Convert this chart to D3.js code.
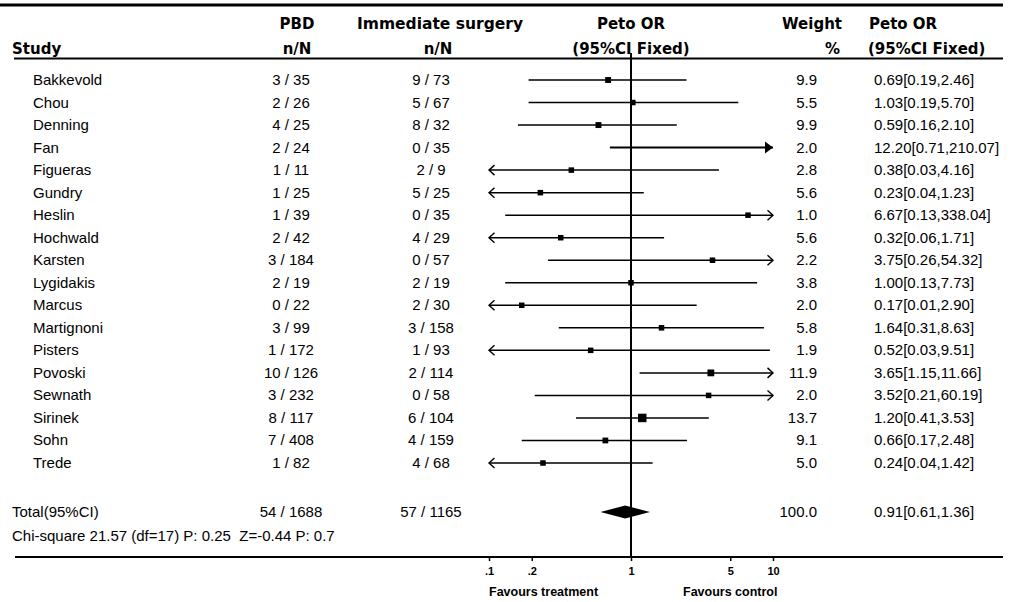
<!DOCTYPE html>
<html>
<head>
<meta charset="utf-8">
<script src="https://cdn.jsdelivr.net/npm/d3@7"></script>
<style>
body{margin:0;background:#fff;}
svg text{font-family:"Liberation Sans",Arial,sans-serif;fill:#000;white-space:pre;}
svg .head text{font-family:"DejaVu Sans",sans-serif;font-weight:bold;}
</style>
</head>
<body>
<svg id="chart" width="1013" height="602"></svg>
<script>
// studies and counts
const studies = ["Bakkevold","Chou","Denning","Fan","Figueras","Gundry","Heslin","Hochwald","Karsten",
  "Lygidakis","Marcus","Martignoni","Pisters","Povoski","Sewnath","Sirinek","Sohn","Trede"];
const pbdEvents = [3,2,4,2,1,1,1,2,3,2,0,3,1,10,3,8,7,1];
const pbdTotal  = [35,26,25,24,11,25,39,42,184,19,22,99,172,126,232,117,408,82];
const immEvents = [9,5,8,0,2,5,0,4,0,2,2,3,1,2,0,6,4,4];
const immTotal  = [73,67,32,35,9,25,35,29,57,19,30,158,93,114,58,104,159,68];
// Peto OR with 95% CI, weight %
const orValues = [0.69,1.03,0.59,12.20,0.38,0.23,6.67,0.32,3.75,1.00,0.17,1.64,0.52,3.65,3.52,1.20,0.66,0.24];
const ciLow    = [0.19,0.19,0.16,0.71,0.03,0.04,0.13,0.06,0.26,0.13,0.01,0.31,0.03,1.15,0.21,0.41,0.17,0.04];
const ciHigh   = [2.46,5.70,2.10,210.07,4.16,1.23,338.04,1.71,54.32,7.73,2.90,8.63,9.51,11.66,60.19,3.53,2.48,1.42];
const weights  = [9.9,5.5,9.9,2.0,2.8,5.6,1.0,5.6,2.2,3.8,2.0,5.8,1.9,11.9,2.0,13.7,9.1,5.0];
// pooled
const totalLabel = "Total(95%CI)";
const totalPbd = "54 / 1688";
const totalImm = "57 / 1165";
const totalOr = [0.91,0.61,1.36];
const totalWeight = 100.0;
const hetText = "Chi-square 21.57 (df=17) P: 0.25  Z=-0.44 P: 0.7";
// axis
const tickValues = [0.1,0.2,1,5,10];
const tickLabels = [".1",".2","1","5","10"];

const svg = d3.select("#chart");
const X_LEFT = 12, X_STUDY = 33, X_PBD = 291, X_IMM = 431, X_W = 817, X_CI = 874;
const FS = "15px";

const x = d3.scaleLog().domain([0.1,10]).range([489,773]);
const y = d3.scalePoint().domain(studies).range([80,463]);
const sq = d3.scalePow().exponent(6).domain([0,13.7]).range([5.5,8.5]);
const yTotal = 512, yHet = 536, yAxis = 557;

// rules
svg.append("line").attr("x1",0).attr("x2",1003).attr("y1",5).attr("y2",5)
  .attr("stroke","#000").attr("stroke-width",3);
svg.append("line").attr("x1",14).attr("x2",1003).attr("y1",58.5).attr("y2",58.5)
  .attr("stroke","#000").attr("stroke-width",2);
svg.append("line").attr("x1",15).attr("x2",1003).attr("y1",yAxis).attr("y2",yAxis)
  .attr("stroke","#000").attr("stroke-width",2);

// header
const head = svg.append("g").attr("class","head").attr("font-size","15px");
const hy1 = 29, hy2 = 54;
head.append("text").attr("x",X_LEFT).attr("y",hy2).text("Study");
head.append("text").attr("x",297).attr("y",hy1).attr("text-anchor","middle").text("PBD");
head.append("text").attr("x",297).attr("y",hy2).attr("text-anchor","middle").text("n/N");
head.append("text").attr("x",440).attr("y",hy1).attr("text-anchor","middle").attr("font-size","15.5px").text("Immediate surgery");
head.append("text").attr("x",438).attr("y",hy2).attr("text-anchor","middle").text("n/N");
head.append("text").attr("x",x(1)).attr("y",hy1).attr("text-anchor","middle").text("Peto OR");
head.append("text").attr("x",x(1)).attr("y",hy2).attr("text-anchor","middle").text("(95%CI Fixed)");
head.append("text").attr("x",842).attr("y",hy1).attr("text-anchor","end").text("Weight");
head.append("text").attr("x",840).attr("y",hy2).attr("text-anchor","end").text("%");
head.append("text").attr("x",X_CI-5).attr("y",hy1).text("Peto OR");
head.append("text").attr("x",X_CI-6).attr("y",hy2).text("(95%CI Fixed)");

// null line
svg.append("line").attr("x1",x(1)).attr("x2",x(1)).attr("y1",53).attr("y2",yAxis)
  .attr("stroke","#000").attr("stroke-width",2);

// table text
const rows = svg.append("g").attr("font-size",FS).selectAll("g").data(studies).join("g")
  .attr("transform",d=>`translate(0,${y(d)+5})`);
rows.append("text").attr("x",X_STUDY).text(d=>d);
rows.append("text").attr("x",X_PBD).attr("text-anchor","middle").text((d,i)=>`${pbdEvents[i]} / ${pbdTotal[i]}`);
rows.append("text").attr("x",X_IMM).attr("text-anchor","middle").text((d,i)=>`${immEvents[i]} / ${immTotal[i]}`);
rows.append("text").attr("x",X_W).attr("text-anchor","end").text((d,i)=>weights[i].toFixed(1));
rows.append("text").attr("x",X_CI).text((d,i)=>`${orValues[i].toFixed(2)}[${ciLow[i].toFixed(2)},${ciHigh[i].toFixed(2)}]`);

// forest marks
const [dMin,dMax] = x.domain();
studies.forEach((s,i)=>{
  const cy = y(s);
  const g = svg.append("g");
  const lo = Math.max(ciLow[i],dMin), hi = Math.min(ciHigh[i],dMax);
  const outside = orValues[i] > dMax || orValues[i] < dMin;
  g.append("line").attr("x1",x(lo)).attr("x2",x(hi)).attr("y1",cy).attr("y2",cy)
    .attr("stroke","#000").attr("stroke-width",outside?2:1.5);
  if(ciLow[i] < dMin){
    const ax = x(dMin);
    g.append("path").attr("d",`M${ax+5.5},${cy-5}L${ax},${cy}L${ax+5.5},${cy+5}`)
      .attr("fill","none").attr("stroke","#000").attr("stroke-width",1.4);
  }
  if(ciHigh[i] > dMax){
    const ax = x(dMax);
    if(outside){
      g.append("path").attr("d",`M${ax-8},${cy-6}L${ax},${cy}L${ax-8},${cy+6}Z`).attr("fill","#000");
    } else {
      g.append("path").attr("d",`M${ax-5.5},${cy-5}L${ax},${cy}L${ax-5.5},${cy+5}`)
        .attr("fill","none").attr("stroke","#000").attr("stroke-width",1.4);
    }
  }
  if(!outside){
    const s2 = sq(weights[i]);
    g.append("rect").attr("x",x(orValues[i])-s2/2).attr("y",cy-s2/2)
      .attr("width",s2).attr("height",s2).attr("fill","#000");
  }
});

// total row
const tg = svg.append("g").attr("font-size",FS);
tg.append("text").attr("x",X_LEFT).attr("y",yTotal+5).text(totalLabel);
tg.append("text").attr("x",X_PBD).attr("y",yTotal+5).attr("text-anchor","middle").text(totalPbd);
tg.append("text").attr("x",X_IMM).attr("y",yTotal+5).attr("text-anchor","middle").text(totalImm);
tg.append("text").attr("x",X_W).attr("y",yTotal+5).attr("text-anchor","end").text(totalWeight.toFixed(1));
tg.append("text").attr("x",X_CI).attr("y",yTotal+5)
  .text(`${totalOr[0].toFixed(2)}[${totalOr[1].toFixed(2)},${totalOr[2].toFixed(2)}]`);
tg.append("text").attr("x",X_LEFT).attr("y",yHet+5).text(hetText);
svg.append("path")
  .attr("d",`M${x(totalOr[1])},${yTotal}L${x(totalOr[0])},${yTotal-6.5}L${x(totalOr[2])},${yTotal}L${x(totalOr[0])},${yTotal+6.5}Z`)
  .attr("fill","#000");

// axis
const axis = svg.append("g").attr("transform",`translate(0,${yAxis})`)
  .call(d3.axisBottom(x).tickValues(tickValues).tickFormat((d,i)=>tickLabels[i]).tickSizeOuter(0).tickSize(4).tickPadding(6));
axis.select(".domain").remove();
axis.selectAll("line").attr("stroke","#000").attr("stroke-width",1.5);
axis.selectAll("text").attr("font-size","11px").attr("font-weight","bold")
  .attr("font-family","'Liberation Sans',Arial,sans-serif");

svg.append("text").attr("x",x(0.1)).attr("y",596).attr("font-size","12.5px").attr("font-weight","bold")
  .text("Favours treatment");
svg.append("text").attr("x",683).attr("y",596).attr("font-size","12.5px").attr("font-weight","bold")
  .text("Favours control");
</script>
</body>
</html>
